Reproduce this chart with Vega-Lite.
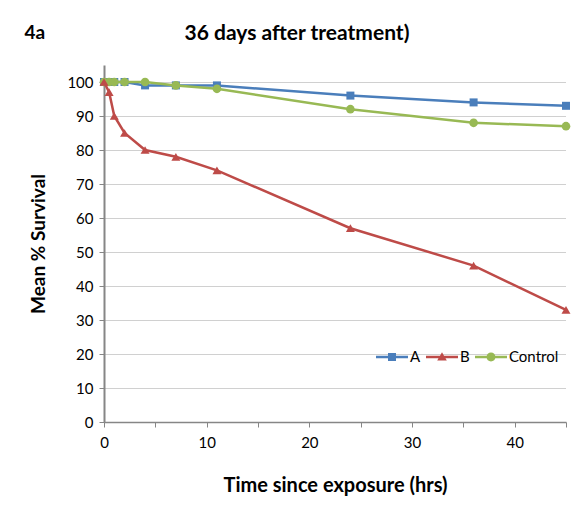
{
  "$schema": "https://vega.github.io/schema/vega-lite/v6.json",
  "width": 462,
  "height": 357,
  "autosize": "none",
  "padding": {"left": 104, "top": 65, "right": 21, "bottom": 88},
  "background": "white",
  "title": {"text": "36 days after treatment)", "anchor": "middle", "font": "Lato", "fontSize": 21, "fontWeight": "bold", "color": "#000000", "offset": -21, "dx": -38},
  "config": {
    "font": "Lato",
    "view": {"stroke": null},
    "axis": {"labelFont": "Lato", "titleFont": "Lato", "labelColor": "#000000", "titleColor": "#000000", "labelFontSize": 15, "titleFontSize": 19, "titleFontWeight": "bold"},
    "axisY": {"values": [0, 10, 20, 30, 40, 50, 60, 70, 80, 90, 100], "grid": true, "gridColor": "#a0a0a0", "gridDash": [1, 1], "gridWidth": 1, "domainColor": "#868686", "domainWidth": 2, "tickColor": "#868686", "tickSize": 5, "labelPadding": 6, "titlePadding": 18, "labelOverlap": false}
  },
  "data": {"values": [
    {"series": "A", "time": 0, "value": 100},
    {"series": "A", "time": 0.5, "value": 100},
    {"series": "A", "time": 1, "value": 100},
    {"series": "A", "time": 2, "value": 100},
    {"series": "A", "time": 4, "value": 99},
    {"series": "A", "time": 7, "value": 99},
    {"series": "A", "time": 11, "value": 99},
    {"series": "A", "time": 24, "value": 96},
    {"series": "A", "time": 36, "value": 94},
    {"series": "A", "time": 45, "value": 93},
    {"series": "B", "time": 0, "value": 100},
    {"series": "B", "time": 0.5, "value": 97},
    {"series": "B", "time": 1, "value": 90},
    {"series": "B", "time": 2, "value": 85},
    {"series": "B", "time": 4, "value": 80},
    {"series": "B", "time": 7, "value": 78},
    {"series": "B", "time": 11, "value": 74},
    {"series": "B", "time": 24, "value": 57},
    {"series": "B", "time": 36, "value": 46},
    {"series": "B", "time": 45, "value": 33},
    {"series": "Control", "time": 0, "value": 100},
    {"series": "Control", "time": 0.5, "value": 100},
    {"series": "Control", "time": 1, "value": 100},
    {"series": "Control", "time": 2, "value": 100},
    {"series": "Control", "time": 4, "value": 100},
    {"series": "Control", "time": 7, "value": 99},
    {"series": "Control", "time": 11, "value": 98},
    {"series": "Control", "time": 24, "value": 92},
    {"series": "Control", "time": 36, "value": 88},
    {"series": "Control", "time": 45, "value": 87}
  ]},
  "layer": [
    {
      "transform": [{"filter": "datum.series === 'A'"}],
      "mark": {"type": "line", "strokeWidth": 2.5, "color": "#4a7ebb", "clip": false,
        "point": {"shape": "square", "size": 64, "filled": true, "color": "#4a7ebb", "opacity": 1}},
      "encoding": {
        "x": {"field": "time", "type": "quantitative", "scale": {"domain": [0, 45], "nice": false, "zero": false},
          "axis": {"orient": "bottom", "title": "Time since exposure (hrs)", "titleFontSize": 20, "values": [0, 5, 10, 15, 20, 25, 30, 35, 40, 45], "labelExpr": "datum.value % 10 === 0 ? datum.label : ''", "grid": false, "domainColor": "#868686", "domainWidth": 1.5, "tickColor": "#868686", "tickSize": 5, "tickWidth": 1, "labelPadding": 8, "titlePadding": 25, "labelFlush": false, "labelOverlap": false}},
        "y": {"field": "value", "type": "quantitative", "title": "Mean % Survival", "scale": {"domain": [0, 105], "nice": false}}
      }
    },
    {
      "transform": [{"filter": "datum.series === 'Control'"}],
      "mark": {"type": "line", "strokeWidth": 2.5, "color": "#98b954", "clip": false,
        "point": {"shape": "circle", "size": 75, "filled": true, "color": "#98b954", "opacity": 1}},
      "encoding": {
        "x": {"field": "time", "type": "quantitative", "axis": null},
        "y": {"field": "value", "type": "quantitative", "title": "Mean % Survival"}
      }
    },
    {
      "transform": [{"filter": "datum.series === 'B'"}],
      "mark": {"type": "line", "strokeWidth": 2.5, "color": "#be4b48", "clip": false,
        "point": {"shape": "triangle-up", "size": 80, "filled": true, "color": "#be4b48", "opacity": 1}},
      "encoding": {
        "x": {"field": "time", "type": "quantitative", "axis": {"orient": "top", "title": "4a", "labels": false, "ticks": false, "domain": false, "grid": false, "titleX": -80, "titleY": -33, "titleAlign": "left", "titleBaseline": "middle", "titleFontSize": 19}},
        "y": {"field": "value", "type": "quantitative", "title": "Mean % Survival"}
      }
    },
    {
      "mark": {"type": "point", "filled": true, "opacity": 0, "size": 1024, "strokeWidth": 0},
      "encoding": {
        "x": {"field": "time", "type": "quantitative", "axis": null},
        "y": {"field": "value", "type": "quantitative", "title": "Mean % Survival"},
        "fill": {"field": "series", "type": "nominal", "scale": {"domain": ["A", "B", "Control"], "range": ["#4a7ebb", "#be4b48", "#98b954"]},
          "legend": {"title": null, "orient": "none", "legendX": 272, "legendY": 276, "direction": "horizontal", "symbolSize": 1024, "symbolOpacity": 1, "symbolStrokeWidth": 0, "labelFontSize": 15, "labelFont": "Lato", "labelColor": "#000000", "labelOffset": 2, "columnPadding": 5}},
        "shape": {"field": "series", "type": "nominal", "scale": {"domain": ["A", "B", "Control"], "range": [
          "M-1,-0.078H1V0.078H-1Z M-0.25,-0.25H0.25V0.25H-0.25Z",
          "M-1,-0.078H1V0.078H-1Z M0,-0.3L0.3,0.22L-0.3,0.22Z",
          "M-1,-0.078H1V0.078H-1Z M0.28,0A0.28,0.28 0 1,1 -0.28,0A0.28,0.28 0 1,1 0.28,0Z"
        ]},
          "legend": {"title": null, "orient": "none", "legendX": 272, "legendY": 276, "direction": "horizontal", "symbolSize": 1024, "symbolOpacity": 1, "symbolStrokeWidth": 0, "labelFontSize": 15, "labelFont": "Lato", "labelColor": "#000000", "labelOffset": 2, "columnPadding": 5}}
      }
    }
  ],
  "resolve": {"axis": {"x": "independent"}}
}
